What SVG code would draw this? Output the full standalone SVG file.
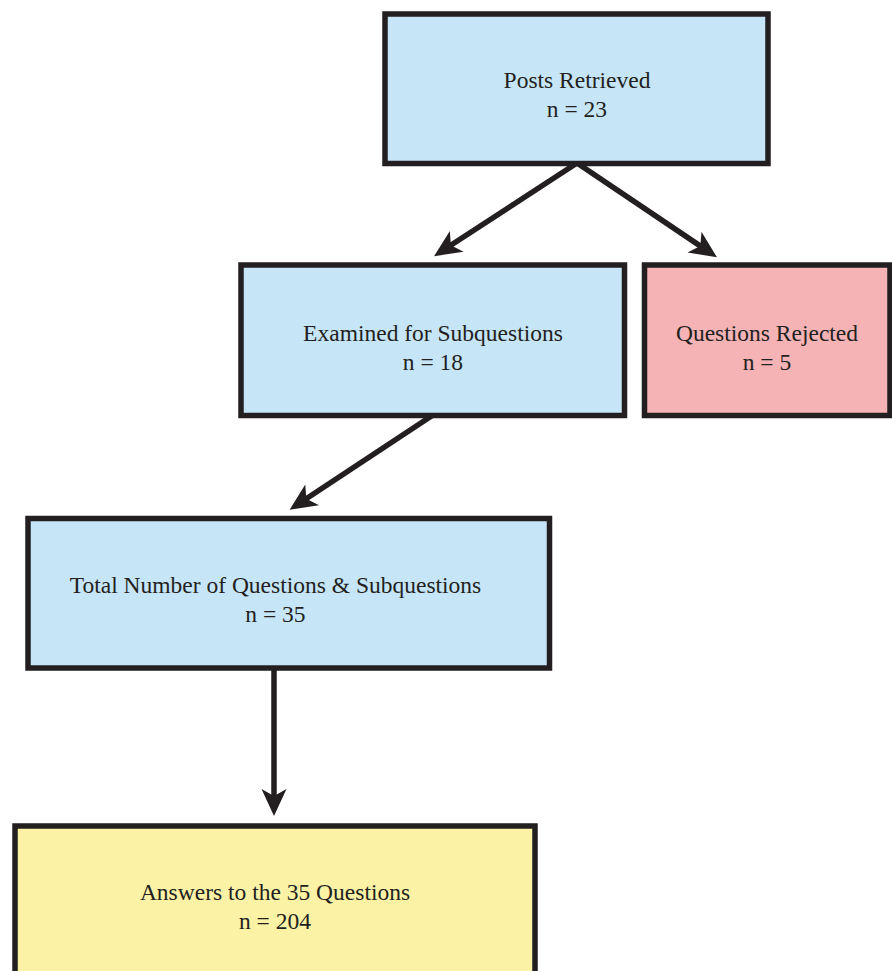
<svg xmlns="http://www.w3.org/2000/svg" width="892" height="971" viewBox="0 0 892 971">
<style>
.box{stroke:#231f20;stroke-width:5.5}
.blue{fill:#c6e6f8}
.red{fill:#f6b3b5}
.yellow{fill:#fbf2a6}
.lbl{font-family:"Liberation Serif","Times New Roman",serif;font-size:23.5px;fill:#231f20;text-anchor:middle}
.conn{stroke:#231f20;stroke-width:5.5;fill:none;marker-end:url(#ah)}
</style>
<defs>
<marker id="ah" markerUnits="userSpaceOnUse" markerWidth="40" markerHeight="40" refX="0" refY="0" orient="auto" overflow="visible">
<path d="M14,0 L-13,-12.5 L-6,0 L-13,12.5 Z" fill="#231f20"/>
</marker>
</defs>
<rect width="892" height="971" fill="#ffffff"/>
<g id="connectors">
<line class="conn" x1="577" y1="163" x2="445.8" y2="248.5"/>
<line class="conn" x1="577" y1="163" x2="705.3" y2="249.4"/>
<line class="conn" x1="433" y1="415" x2="301.3" y2="502"/>
<line class="conn" x1="274" y1="668" x2="274" y2="802"/>
</g>
<g id="posts">
<rect class="box blue" x="385" y="14" width="383" height="149.5"/>
<text class="lbl" x="577" y="88">Posts Retrieved</text>
<text class="lbl" x="577" y="117">n = 23</text>
</g>
<g id="examined">
<rect class="box blue" x="241" y="265" width="383.5" height="150.5"/>
<text class="lbl" x="433" y="341">Examined for Subquestions</text>
<text class="lbl" x="433" y="370">n = 18</text>
</g>
<g id="rejected">
<rect class="box red" x="644.5" y="265" width="245.5" height="150.5"/>
<text class="lbl" x="767" y="341">Questions Rejected</text>
<text class="lbl" x="767" y="370">n = 5</text>
</g>
<g id="total">
<rect class="box blue" x="28" y="518.5" width="521.5" height="149.5"/>
<text class="lbl" x="275.5" y="593">Total Number of Questions &amp; Subquestions</text>
<text class="lbl" x="275.5" y="622">n = 35</text>
</g>
<g id="answers">
<rect class="box yellow" x="15" y="826" width="520" height="160"/>
<text class="lbl" x="275" y="900">Answers to the 35 Questions</text>
<text class="lbl" x="275" y="929">n = 204</text>
</g>
</svg>
